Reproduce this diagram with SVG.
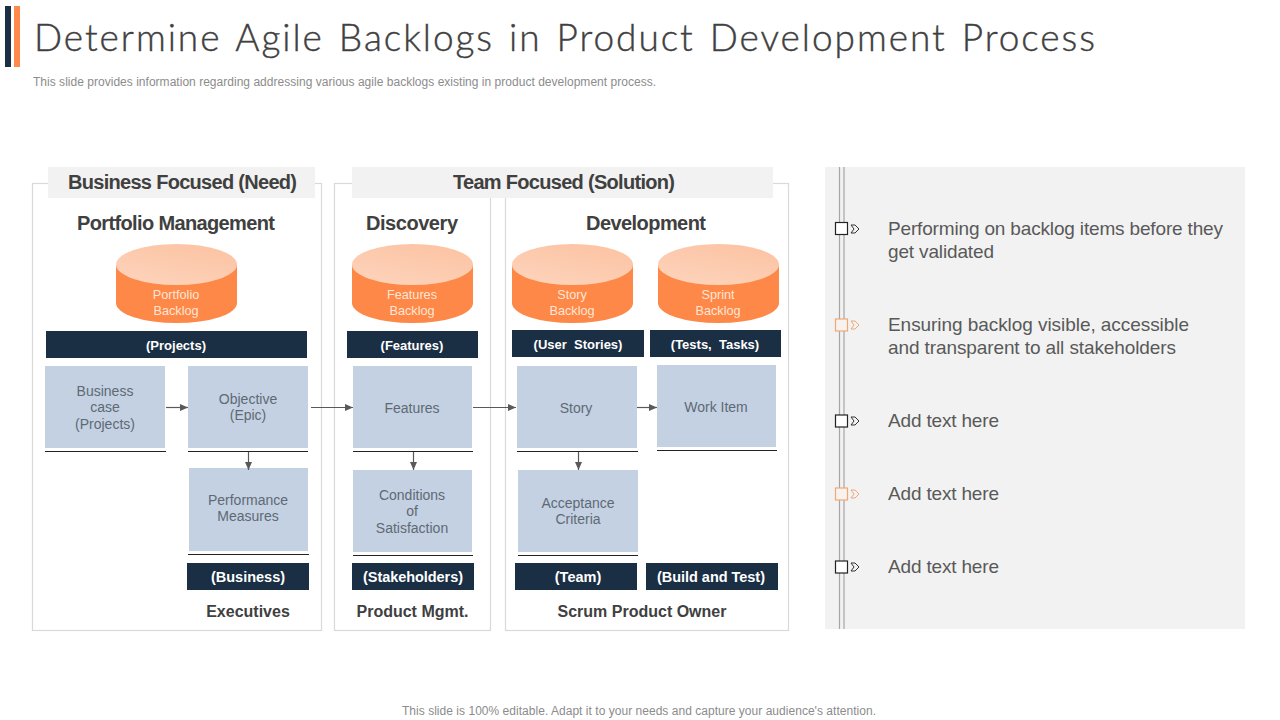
<svg xmlns="http://www.w3.org/2000/svg" width="1280" height="720" viewBox="0 0 1280 720">
<style>
text{font-family:"Liberation Sans",Arial,sans-serif}
.frame{fill:#fff;stroke:#d9d9d9;stroke-width:1.2}
.band{fill:#f2f2f2}
.hd{font-size:20px;font-weight:700;fill:#404040;text-anchor:middle}
.bx{fill:#c3d1e3}
.bt{font-size:14px;fill:#5f6973;text-anchor:middle}
.rule{stroke:#222;stroke-width:1.2}
.nv{fill:#1a2e44}
.nt{font-size:13px;font-weight:700;fill:#fff;text-anchor:middle}
.nb{font-size:14.500px}
.ft{font-size:16px;font-weight:700;fill:#404040;text-anchor:middle}
.cb{fill:#fd8847}
.ct{fill:url(#capg)}
.cl{font-size:12.700px;fill:#ffe6d8;text-anchor:middle}
.rt{font-size:19px;fill:#595959}
.cn{stroke:#595959;stroke-width:1.2;fill:none;marker-end:url(#ah)}
.sq{fill:#fff;stroke:#222;stroke-width:1.2}
.ch{fill:none;stroke:#333;stroke-width:1}
.o .sq{fill:#f7f2ee;stroke:#f0a878}
.o .ch{stroke:#f0a878}
</style>
<defs>
<linearGradient id="capg" x1="0.800" y1="0" x2="0.200" y2="1"><stop offset="0" stop-color="#fcc3a3"/><stop offset="1" stop-color="#fdd3bb"/></linearGradient>
<marker id="ah" markerUnits="userSpaceOnUse" markerWidth="9" markerHeight="8" refX="8" refY="3.500" orient="auto"><path d="M0 0L8 3.500L0 7Z" fill="#595959"/></marker>
<g id="cyl"><path class="cb" d="M0 21V59A60.500 20 0 0 0 121 59V21Z"/><ellipse class="ct" cx="60.500" cy="20.500" rx="60.500" ry="20.500"/></g>
</defs>
<rect width="1280" height="720" fill="#fff"/>
<g id="header">
<rect x="5" y="6" width="6" height="61" fill="#1a2e44"/>
<rect x="14" y="6" width="6" height="61" fill="#ff8a4c"/>
<text x="34" y="51" font-size="37" fill="#404040" stroke="#404040" stroke-width="0.400" word-spacing="3" textLength="1061" lengthAdjust="spacing" style="font-family:'Lato',sans-serif;font-weight:300">Determine Agile Backlogs in Product Development Process</text>
<text x="33" y="86" font-size="12" fill="#8c8c8c" textLength="623">This slide provides information regarding addressing various agile backlogs existing in product development process.</text>
</g>
<g id="frames">
<rect class="frame" x="32.500" y="183.500" width="289" height="447"/>
<rect class="frame" x="334.500" y="183.500" width="156" height="447"/>
<rect class="frame" x="505.500" y="183.500" width="283" height="447"/>
<rect class="band" x="48" y="167" width="267" height="31"/>
<rect class="band" x="352" y="167" width="421" height="31"/>
<text class="hd" x="182.500" y="189" textLength="229">Business Focused (Need)</text>
<text class="hd" x="564" y="189" textLength="222">Team Focused (Solution)</text>
<text class="hd" x="176" y="230" textLength="198">Portfolio Management</text>
<text class="hd" x="412" y="230" textLength="92">Discovery</text>
<text class="hd" x="646" y="230" textLength="120">Development</text>
</g>
<g id="portfolio-backlog"><use href="#cyl" x="116" y="244"/><text class="cl" x="176" y="299">Portfolio</text><text class="cl" x="176" y="315">Backlog</text></g>
<g id="features-backlog"><use href="#cyl" x="352" y="244"/><text class="cl" x="412" y="299">Features</text><text class="cl" x="412" y="315">Backlog</text></g>
<g id="story-backlog"><use href="#cyl" x="512" y="244"/><text class="cl" x="572" y="299">Story</text><text class="cl" x="572" y="315">Backlog</text></g>
<g id="sprint-backlog"><use href="#cyl" x="658" y="244"/><text class="cl" x="718" y="299">Sprint</text><text class="cl" x="718" y="315">Backlog</text></g>
<g id="tag-projects"><rect class="nv" x="46" y="331" width="261" height="27"/><text class="nt" x="176" y="350">(Projects)</text></g>
<g id="tag-features"><rect class="nv" x="347" y="331" width="131" height="27"/><text class="nt" x="412" y="350">(Features)</text></g>
<g id="tag-user-stories"><rect class="nv" x="512" y="330" width="132" height="27"/><text class="nt" x="578" y="349" xml:space="preserve">(User  Stories)</text></g>
<g id="tag-tests"><rect class="nv" x="650" y="330" width="131" height="27"/><text class="nt" x="715" y="349" xml:space="preserve">(Tests,  Tasks)</text></g>
<g id="business-case"><rect class="bx" x="45" y="366" width="120" height="82"/><line class="rule" x1="45" y1="451.500" x2="166" y2="451.500"/><text class="bt" x="105" y="396">Business</text><text class="bt" x="105" y="412">case</text><text class="bt" x="105" y="429">(Projects)</text></g>
<g id="objective"><rect class="bx" x="188" y="366" width="120" height="82"/><line class="rule" x1="188" y1="451.500" x2="308" y2="451.500"/><text class="bt" x="248" y="404">Objective</text><text class="bt" x="248" y="420">(Epic)</text></g>
<g id="performance"><rect class="bx" x="189" y="468" width="119" height="83"/><line class="rule" x1="188" y1="554.500" x2="309" y2="554.500"/><text class="bt" x="248" y="505">Performance</text><text class="bt" x="248" y="521">Measures</text></g>
<g id="features"><rect class="bx" x="353" y="366" width="119" height="82"/><line class="rule" x1="353" y1="451.500" x2="473" y2="451.500"/><text class="bt" x="412" y="413">Features</text></g>
<g id="conditions"><rect class="bx" x="353" y="470" width="119" height="82"/><line class="rule" x1="353" y1="555.500" x2="473" y2="555.500"/><text class="bt" x="412" y="500">Conditions</text><text class="bt" x="412" y="516">of</text><text class="bt" x="412" y="533">Satisfaction</text></g>
<g id="story"><rect class="bx" x="517" y="366" width="120" height="82"/><line class="rule" x1="517" y1="451.500" x2="638" y2="451.500"/><text class="bt" x="576" y="413">Story</text></g>
<g id="acceptance"><rect class="bx" x="518" y="470" width="120" height="82"/><line class="rule" x1="518" y1="555.500" x2="638" y2="555.500"/><text class="bt" x="578" y="508">Acceptance</text><text class="bt" x="578" y="524">Criteria</text></g>
<g id="work-item"><rect class="bx" x="657" y="365" width="119" height="82"/><line class="rule" x1="657" y1="450.500" x2="777" y2="450.500"/><text class="bt" x="716" y="412">Work Item</text></g>
<g id="tag-business"><rect class="nv" x="187" y="563" width="122" height="27"/><text class="nt nb" x="248" y="582">(Business)</text></g>
<g id="tag-stakeholders"><rect class="nv" x="352" y="563" width="122" height="27"/><text class="nt nb" x="413" y="582" textLength="100">(Stakeholders)</text></g>
<g id="tag-team"><rect class="nv" x="515" y="563" width="122" height="27"/><text class="nt nb" x="578" y="582">(Team)</text></g>
<g id="tag-build"><rect class="nv" x="646" y="563" width="132" height="27"/><text class="nt nb" x="711" y="582" textLength="108">(Build and Test)</text></g>
<text class="ft" x="248" y="617">Executives</text>
<text class="ft" x="412.500" y="617">Product Mgmt.</text>
<text class="ft" x="642" y="617">Scrum Product Owner</text>
<g id="connectors">
<path class="cn" d="M166 407.500H188"/>
<path class="cn" d="M311 407.500H353"/>
<path class="cn" d="M473 407.500H516"/>
<path class="cn" d="M637 407.500H657"/>
<path class="cn" d="M248.500 452V470"/>
<path class="cn" d="M413.500 452V470"/>
<path class="cn" d="M578.500 452V470"/>
</g>
<g id="panel">
<rect class="band" x="825" y="167" width="420" height="462"/>
<path d="M839.500 167V629M844 167V629" stroke="#a6a6a6" stroke-width="1.200" fill="none"/>
</g>
<g id="item-1"><rect class="sq" x="835.500" y="222.500" width="12" height="12"/><path class="ch" d="M851 225H855L859 229L855 233H851L854 229Z"/><text class="rt" x="888" y="235" textLength="335">Performing on backlog items before they</text><text class="rt" x="888" y="258" textLength="106">get validated</text></g>
<g id="item-2" class="o"><rect class="sq" x="835.500" y="319" width="12" height="12"/><path class="ch" d="M851 321H855L859 325L855 329H851L854 325Z"/><text class="rt" x="888" y="331" textLength="301">Ensuring backlog visible, accessible</text><text class="rt" x="888" y="354" textLength="288">and transparent to all stakeholders</text></g>
<g id="item-3"><rect class="sq" x="835.500" y="415" width="12" height="12"/><path class="ch" d="M851 417H855L859 421L855 425H851L854 421Z"/><text class="rt" x="888" y="427" textLength="111">Add text here</text></g>
<g id="item-4" class="o"><rect class="sq" x="835.500" y="488" width="12" height="12"/><path class="ch" d="M851 490H855L859 494L855 498H851L854 494Z"/><text class="rt" x="888" y="500" textLength="111">Add text here</text></g>
<g id="item-5"><rect class="sq" x="835.500" y="561" width="12" height="12"/><path class="ch" d="M851 563H855L859 567L855 571H851L854 567Z"/><text class="rt" x="888" y="573" textLength="111">Add text here</text></g>
<text x="402" y="715" font-size="12" fill="#8c8c8c" textLength="474">This slide is 100% editable. Adapt it to your needs and capture your audience's attention.</text>
</svg>
